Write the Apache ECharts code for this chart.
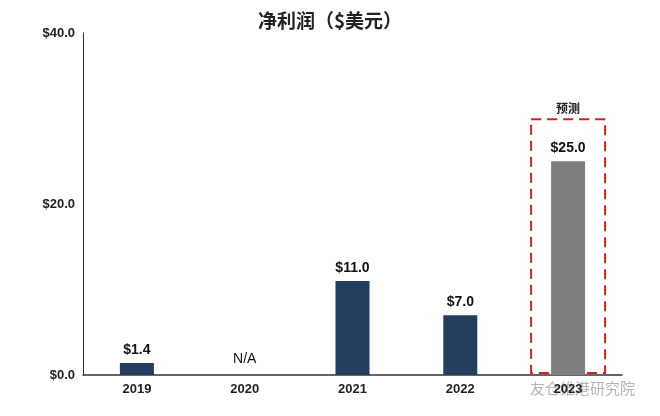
<!DOCTYPE html><html><head><meta charset="utf-8"><script src="https://cdn.jsdelivr.net/npm/echarts@6/dist/echarts.min.js"></script></head><body style="margin:0"><div id="c" style="width:660px;height:416px"></div><script>
const categories=['2019','2020','2021','2022','2023'];
const values=[1.4,null,11.0,7.0,25.0];
const labels=['$1.4','N/A','$11.0','$7.0','$25.0'];
const yTicks=['$0.0','$20.0','$40.0'];
const chart=echarts.init(document.getElementById('c'));
const F='"Noto Sans CJK SC", Arial, sans-serif';
chart.setOption({
 title:{text:'净利润（$美元）',left:'center',top:6,textStyle:{fontFamily:F,fontSize:19,fontWeight:'bold',color:'#222'}},
 grid:{left:83,right:38,top:33,bottom:41},
 xAxis:{type:'category',data:categories,axisTick:{show:false},axisLine:{lineStyle:{color:'#333',width:1.5}},axisLabel:{fontFamily:'Arial',fontWeight:'bold',fontSize:13,color:'#222',margin:8}},
 yAxis:{type:'value',min:0,max:40,interval:20,splitLine:{show:false},axisLine:{show:true,lineStyle:{color:'#333'}},axisLabel:{fontFamily:'Arial',fontWeight:'bold',fontSize:13,color:'#222',formatter:v=>yTicks[v/20]}},
 series:[{type:'bar',barWidth:34,data:values.map((v,i)=>({value:v===null?0:v,itemStyle:{color:i===4?'#7f7f7f':'#253d5e'}})),
  label:{show:true,position:'top',distance:6,fontFamily:'Arial',fontSize:14,color:'#111',formatter:p=>labels[p.dataIndex],
   rich:{}},
  labelLayout:null}]
});
// N/A label non-bold; others bold
chart.setOption({series:[{data:values.map((v,i)=>({value:v===null?0:v,itemStyle:{color:i===4?'#7f7f7f':'#253d5e'},label:{fontWeight:v===null?'normal':'bold',distance:v===null?9:6}}))}]});
const c=chart.convertToPixel({xAxisIndex:0,yAxisIndex:0},[4,0]);
const t=chart.convertToPixel({xAxisIndex:0,yAxisIndex:0},[4,25]);
chart.setOption({graphic:[
 {type:'rect',shape:{x:c[0]-37,y:t[1]-42,width:74,height:c[1]-t[1]+40},style:{fill:'none',stroke:'#d62020',lineWidth:2,lineDash:[10,6]}},
 {type:'text',x:c[0],y:t[1]-53,style:{text:'预测',fontFamily:F,fontSize:12,fontWeight:'bold',fill:'#222',align:'center',verticalAlign:'middle'}},
 {type:'text',x:530,y:388,style:{text:'友仓维港研究院',fontFamily:F,fontSize:15,fill:'rgba(120,120,120,0.55)',verticalAlign:'middle'}}
]});
</script></body></html>
